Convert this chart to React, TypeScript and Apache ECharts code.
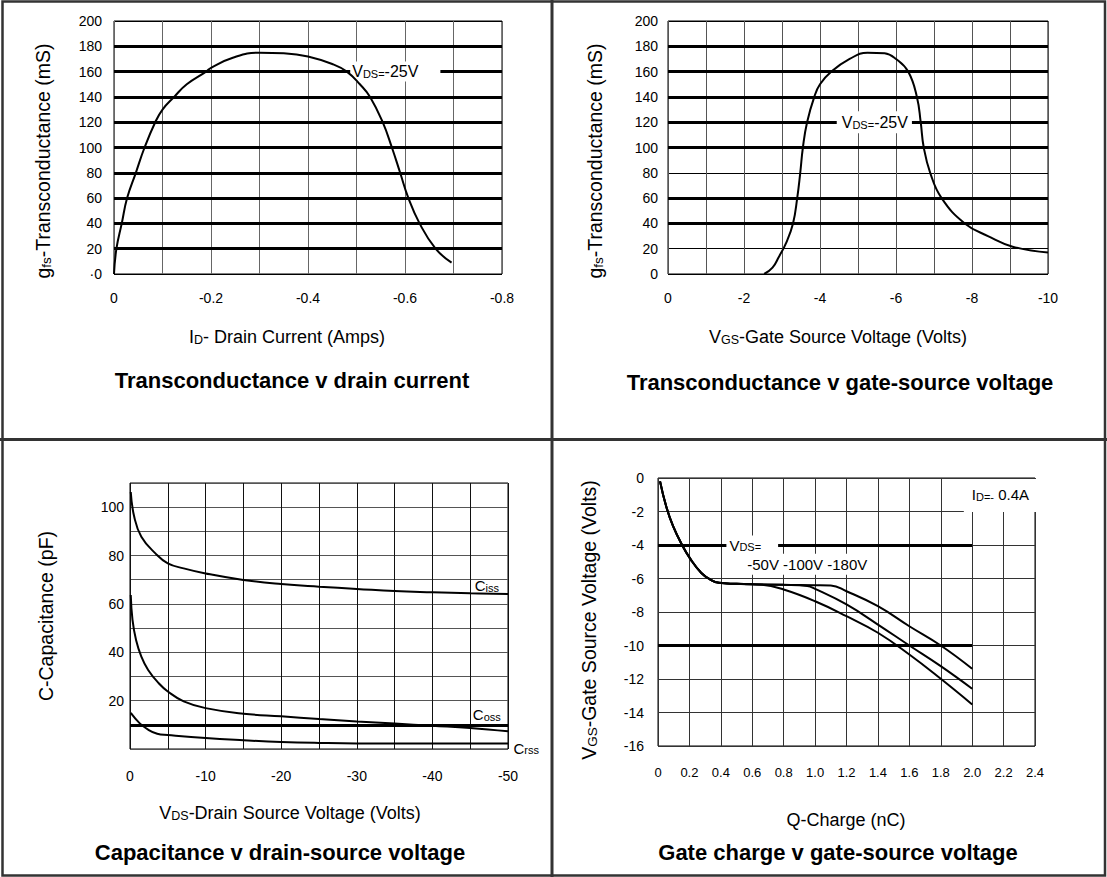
import React, { useEffect, useRef } from "react";
import * as echarts from "echarts";

const FONT = "'Liberation Sans', Arial, Helvetica, sans-serif";

// ---- Panel 1: transconductance vs drain current ----
const idAmps = [0, -0.005, -0.016, -0.027, -0.045, -0.063, -0.085, -0.1, -0.124, -0.15, -0.19, -0.2, -0.245, -0.3, -0.35, -0.4, -0.45, -0.48, -0.507, -0.528, -0.554, -0.573, -0.59, -0.607, -0.63, -0.663, -0.696];
const gfsVsId = [0, 20, 40, 60, 80, 100, 120, 130, 140, 150, 160, 163, 171, 175, 174.5, 172, 166, 160, 150, 140, 120, 100, 80, 60, 40, 20, 9];
const thickGfs1 = [20, 40, 60, 80, 100, 120, 140, 160, 180];

// ---- Panel 2: transconductance vs gate-source voltage ----
const vgsVolts = [-2.53, -2.75, -2.92, -3.1, -3.29, -3.4, -3.48, -3.55, -3.66, -3.85, -4.0, -4.3, -4.78, -5.25, -5.7, -6.0, -6.32, -6.55, -6.65, -6.73, -6.9, -7.2, -7.81, -8.42, -9.07, -10];
const gfsVsVgs = [0, 5, 13.7, 24, 40, 60, 80, 100, 120, 140, 150, 160, 170, 175, 174.5, 170, 160, 140, 120, 100, 80, 60, 40, 30, 21.6, 17];
const thickGfs2 = [40, 60, 100, 120, 140, 160, 180];

// ---- Panel 3: capacitance vs drain-source voltage ----
const cissV = [-0.1, -0.56, -1.5, -3.36, -5, -7.1, -10, -15, -20, -25, -30, -35, -40, -45, -50];
const cissPf = [106.3, 96, 87.8, 80.9, 76.8, 74.7, 72.6, 69.9, 68.2, 67.1, 66.2, 65.3, 64.8, 64.4, 64.1];
const cossV = [-0.1, -0.33, -0.8, -1.5, -2.4, -3.8, -5, -7.1, -10, -15, -20, -25, -30, -35, -40, -45, -50];
const cossPf = [63.7, 53.4, 45.1, 38.2, 32.7, 27.2, 23.8, 19.7, 16.9, 14.6, 13.5, 12.4, 11.4, 10.5, 9.6, 8.7, 7.3];
const crssV = [-0.1, -1.26, -2.4, -3.6, -5, -10, -15, -20, -25, -30, -40, -50];
const crssPf = [14.9, 10.7, 8, 6.3, 5.8, 4.5, 3.6, 2.9, 2.5, 2.3, 2.3, 2.3];
const thickCap = [10];

// ---- Panel 4: gate charge ----
const gateCommonQ = [0.013, 0.052, 0.096, 0.152, 0.209, 0.276, 0.332, 0.388, 0.5, 0.6];
const gateCommonV = [-0.2, -1.69, -2.88, -3.98, -4.87, -5.67, -6.06, -6.26, -6.32, -6.35];
const gate50Q = [0.66, 0.8, 1.0, 1.2, 1.4, 1.6, 1.8, 2.0];
const gate50V = [-6.37, -6.66, -7.36, -8.25, -9.24, -10.54, -11.99, -13.52];
const gate100Q = [0.8, 0.95, 1.0, 1.2, 1.4, 1.6, 1.8, 2.0];
const gate100V = [-6.38, -6.45, -6.62, -7.55, -8.75, -10, -11.23, -12.58];
const gate180Q = [0.8, 1.0, 1.1, 1.2, 1.4, 1.6, 1.8, 2.0];
const gate180V = [-6.38, -6.4, -6.42, -6.76, -7.65, -8.85, -10, -11.39];
const thickGate = [-4, -10];
const thickGateEnd = 2.0;

// annotation anchors (data coordinates)
const note1 = [-0.58, 160];
const note2 = [-5.43, 120];
const noteVds = [0.6, -4];
const noteVdsList = [0.95, -5.15];
const noteId = [2.18, -1.05];
const noteCiss = [-47.2, 67.6];
const noteCoss = [-47.2, 14.2];
const noteCrss = [-50, 0];

const zip = (xs: number[], ys: number[]) => xs.map((x, i) => [x, ys[i]]);

const richSub = (n: number, s: number) => ({
  n: { fontSize: n, fontFamily: FONT, color: "#000", textBorderWidth: 0, verticalAlign: "bottom" as const },
  s: { fontSize: s, fontFamily: FONT, color: "#000", textBorderWidth: 0, verticalAlign: "bottom" as const },
});

function curve(idx: number, data: number[][]) {
  return {
    type: "line",
    xAxisIndex: idx,
    yAxisIndex: idx,
    data,
    showSymbol: false,
    symbol: "none",
    smooth: 0.45,
    z: 8,
    silent: true,
    lineStyle: { color: "#000", width: 2 },
  };
}

function thickLines(idx: number, data: any[]) {
  return {
    type: "line",
    xAxisIndex: idx,
    yAxisIndex: idx,
    data: [],
    z: 1,
    silent: true,
    markLine: {
      silent: true,
      z: 1,
      symbol: ["none", "none"],
      label: { show: false },
      lineStyle: { color: "#000", width: 3, type: "solid" },
      data,
    },
  };
}

function note(idx: number, pt: number[], text: string, rich: any, bg: boolean, padding: number[], pos: any = "inside") {
  return {
    type: "scatter",
    xAxisIndex: idx,
    yAxisIndex: idx,
    data: [pt],
    symbolSize: 1,
    z: 7,
    silent: true,
    clip: false,
    itemStyle: { color: "rgba(0,0,0,0)", opacity: 1 },
    label: {
      show: true,
      position: pos,
      formatter: text,
      rich,
      color: "#000",
      opacity: 1,
      textBorderWidth: 0,
      backgroundColor: bg ? "#fff" : "transparent",
      padding,
    },
  };
}

function App() {
  const ref = useRef<HTMLDivElement>(null);
  useEffect(() => {
    document.body.style.margin = "0";
    const chart = echarts.init(ref.current!, null, { renderer: "svg" });

    const labelStyle = { color: "#000", fontSize: 14, fontFamily: FONT };
    const grids = [
      { left: 114, top: 21, width: 388, height: 253 },
      { left: 668, top: 21, width: 380, height: 253 },
      { left: 130, top: 483, width: 378, height: 266 },
      { left: 658, top: 478, width: 377, height: 268 },
    ].map((g) => ({ ...g, show: true, borderColor: "#000", borderWidth: 1, backgroundColor: "#fff" }));

    const baseAxis = (idx: number, extra: any) => ({
      type: "value",
      gridIndex: idx,
      axisLine: { show: false },
      axisTick: { show: false },
      ...extra,
    });

    const xAxis = [
      baseAxis(0, {
        min: -0.8, max: 0, interval: 0.1, inverse: true,
        splitLine: { show: true, lineStyle: { color: "#666", width: 1 } },
        axisLabel: {
          ...labelStyle, margin: 17,
          formatter: (v: number) => {
            const k = Math.round(v * 10);
            if (k % 2 !== 0) return "";
            return k === 0 ? "0" : (k / 10).toFixed(1);
          },
        },
      }),
      baseAxis(1, {
        min: -10, max: 0, interval: 1, inverse: true,
        splitLine: { show: true, lineStyle: { color: "#555", width: 1 } },
        axisLabel: {
          ...labelStyle, margin: 17,
          formatter: (v: number) => {
            const k = Math.round(v);
            return k % 2 === 0 ? String(k) : "";
          },
        },
      }),
      baseAxis(2, {
        min: -50, max: 0, interval: 5, inverse: true,
        splitLine: { show: true, lineStyle: { color: "#111", width: 1 } },
        axisLabel: {
          ...labelStyle, margin: 20,
          formatter: (v: number) => {
            const k = Math.round(v);
            return k % 10 === 0 ? String(k) : "";
          },
        },
      }),
      baseAxis(3, {
        min: 0, max: 2.4, interval: 0.2,
        splitLine: { show: true, lineStyle: { color: "#333", width: 1 } },
        axisLabel: {
          ...labelStyle, fontSize: 13, margin: 20,
          formatter: (v: number) => (Math.abs(v) < 1e-9 ? "0" : v.toFixed(1)),
        },
      }),
    ];

    const yAxis = [
      baseAxis(0, {
        min: 0, max: 200, interval: 20,
        splitLine: { show: true, lineStyle: { color: "#000", width: 1 } },
        axisLabel: { ...labelStyle, margin: 12, formatter: (v: number) => (v === 0 ? "·0" : String(v)) },
      }),
      baseAxis(1, {
        min: 0, max: 200, interval: 20,
        splitLine: { show: true, lineStyle: { color: "#000", width: 1 } },
        axisLabel: { ...labelStyle, margin: 10 },
      }),
      baseAxis(2, {
        min: 0, max: 110, interval: 10,
        splitLine: { show: true, lineStyle: { color: "#555", width: 1 } },
        axisLabel: {
          ...labelStyle, margin: 6,
          formatter: (v: number) => {
            const k = Math.round(v);
            return k > 0 && k <= 100 && k % 20 === 0 ? String(k) : "";
          },
        },
      }),
      baseAxis(3, {
        min: -16, max: 0, interval: 2,
        splitLine: { show: true, lineStyle: { color: "#333", width: 1 } },
        axisLabel: { ...labelStyle, margin: 14, formatter: (v: number) => String(Math.round(v)) },
      }),
    ];

    const r15 = richSub(16, 11);
    const r14 = richSub(15, 11);

    const series: any[] = [
      thickLines(0, thickGfs1.map((v) => ({ yAxis: v }))),
      curve(0, zip(idAmps, gfsVsId)),
      note(0, note1, "{n|V}{s|DS=}{n|-25V}", r15, true, [2, 22, 2, 2]),

      thickLines(1, thickGfs2.map((v) => ({ yAxis: v }))),
      curve(1, zip(vgsVolts, gfsVsVgs)),
      note(1, note2, "{n|V}{s|DS=}{n|-25V}", r15, true, [3, 4, 3, 5]),

      thickLines(2, thickCap.map((v) => ({ yAxis: v }))),
      curve(2, zip(cissV, cissPf)),
      curve(2, zip(cossV, cossPf)),
      curve(2, zip(crssV, crssPf)),
      note(2, noteCiss, "{n|C}{s|iss}", richSub(15, 11), false, [0, 0, 0, 0]),
      note(2, noteCoss, "{n|C}{s|oss}", richSub(15, 11), false, [0, 0, 0, 0]),
      note(2, noteCrss, "{n|C}{s|rss}", richSub(15, 11), false, [0, 0, 0, 0], [6, -8]),

      thickLines(3, thickGate.map((v) => [{ coord: [0, v] }, { coord: [thickGateEnd, v] }])),
      curve(3, zip(gateCommonQ, gateCommonV).concat(zip(gate50Q, gate50V))),
      curve(3, zip(gateCommonQ, gateCommonV).concat(zip(gate100Q, gate100V))),
      curve(3, zip(gateCommonQ, gateCommonV).concat(zip(gate180Q, gate180V))),
      note(3, noteVds, "{n|V}{s|DS=}", r14, true, [2, 17, 2, 3]),
      note(3, noteVdsList, "{n|-50V -100V -180V}", r14, true, [3, 4, 3, 4]),
      note(3, noteId, "{n|I}{s|D=-}{n| 0.4A}", r14, true, [8, 8, 10, 8]),
    ];

    const txt = (x: number, y: number, text: string, rich: any, extra: any = {}) => ({
      type: "text",
      x, y,
      silent: true,
      ...extra,
      style: { text, rich, fontFamily: FONT, fill: "#000", align: "center", verticalAlign: "middle" },
    });
    const titleTxt = (x: number, y: number, text: string) => ({
      type: "text",
      x, y,
      silent: true,
      style: { text, fontFamily: FONT, fontSize: 22, fontWeight: "bold", fill: "#000", align: "center", verticalAlign: "middle" },
    });
    const nameRich = richSub(18, 12.5);
    const yRich = richSub(19.5, 13.5);
    const rot = { rotation: Math.PI / 2 };

    const graphic: any[] = [
      { type: "rect", silent: true, shape: { x: 2.5, y: 1.5, width: 1102.5, height: 874 }, style: { fill: "none", stroke: "#333", lineWidth: 2.5 } },
      { type: "line", silent: true, shape: { x1: 552, y1: 0, x2: 552, y2: 877 }, style: { stroke: "#333", lineWidth: 3 } },
      { type: "line", silent: true, shape: { x1: 0, y1: 439.5, x2: 1107, y2: 439.5 }, style: { stroke: "#333", lineWidth: 3 } },

      txt(287, 337, "{n|I}{s|D}{n|- Drain Current (Amps)}", nameRich),
      txt(838, 337, "{n|V}{s|GS}{n|-Gate Source Voltage (Volts)}", nameRich),
      txt(290, 813, "{n|V}{s|DS}{n|-Drain Source Voltage (Volts)}", nameRich),
      txt(846, 820, "{n|Q-Charge (nC)}", nameRich),

      txt(43, 161, "{n|g}{s|fs}{n|-Transconductance (mS)}", yRich, rot),
      txt(595, 161, "{n|g}{s|fs}{n|-Transconductance (mS)}", yRich, rot),
      txt(46, 616, "{n|C-Capacitance (pF)}", yRich, rot),
      txt(589, 620, "{n|V}{s|GS}{n|-Gate Source Voltage (Volts)}", yRich, rot),

      titleTxt(292, 380, "Transconductance v drain current"),
      titleTxt(840, 382, "Transconductance v gate-source voltage"),
      titleTxt(280, 852, "Capacitance v drain-source voltage"),
      titleTxt(838, 852, "Gate charge v gate-source voltage"),
    ];

    chart.setOption({
      animation: false,
      backgroundColor: "#fff",
      textStyle: { fontFamily: FONT },
      grid: grids,
      xAxis,
      yAxis,
      series,
      graphic,
    });
    return () => chart.dispose();
  }, []);
  return <div ref={ref} style={{ width: 1107, height: 877 }} />;
}

export default App;
